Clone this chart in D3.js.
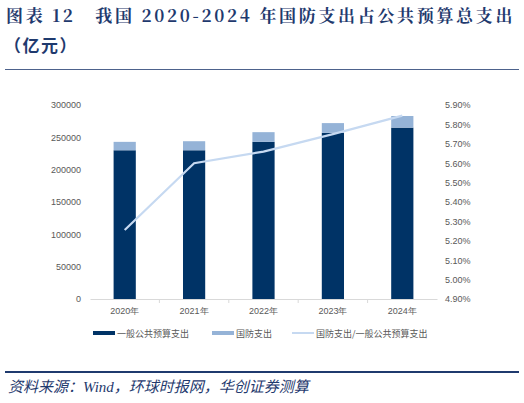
<!DOCTYPE html>
<html><head><meta charset="utf-8">
<script src="https://cdn.jsdelivr.net/npm/d3@7"></script>
<style>body{margin:0;background:#fff}</style></head>
<body><svg id="c" width="524" height="403"></svg>
<script>
const categories=["2020年","2021年","2022年","2023年","2024年"];
const general=[230000,230000,243000,257000,265000];
const defense=[13000,14000,15000,15000,18000];
const ratio=[5.256,5.60,5.66,5.75,5.845];
const leftTicks=[0,50000,100000,150000,200000,250000,300000];
const rightTicks=[4.9,5.0,5.1,5.2,5.3,5.4,5.5,5.6,5.7,5.8,5.9];
const C1="#003366",C2="#95b3d7",C3="#c6d9f1",TXT="#595959",NAVY="#1f3a6e";
const svg=d3.select("#c");
svg.append("text").attr("x",6).attr("y",22).attr("fill",NAVY).attr("font-family","Noto Serif CJK SC,Noto Sans CJK SC,serif").attr("font-weight","bold").attr("font-size",17).attr("letter-spacing",1.6).attr("textLength",508).text("图表 12　我国 2020-2024 年国防支出占公共预算总支出");
svg.append("text").attr("x",4).attr("y",52).attr("fill",NAVY).attr("font-family","Noto Sans CJK SC").attr("font-weight","bold").attr("font-size",17).attr("letter-spacing",1.5).text("（亿元）");
svg.append("line").attr("x1",5).attr("x2",519).attr("y1",69.5).attr("y2",69.5).attr("stroke",NAVY).attr("stroke-width",0.8);
svg.append("line").attr("x1",5).attr("x2",519).attr("y1",372).attr("y2",372).attr("stroke",NAVY).attr("stroke-width",2);
svg.append("text").attr("x",8).attr("y",392).attr("fill",NAVY).attr("font-family","Liberation Serif,Noto Sans CJK SC").attr("font-style","italic").attr("font-size",15).text("资料来源：Wind，环球时报网，华创证券测算");
const x=d3.scaleBand().domain(categories).range([90,437]).paddingInner(0.68).paddingOuter(0.34);
const y=d3.scaleLinear().domain([0,300000]).range([299,105]);
const y2=d3.scaleLinear().domain([4.9,5.9]).range([299,105]);
const g=svg.append("g");
g.selectAll(".b1").data(categories).join("rect").attr("x",d=>x(d)).attr("width",x.bandwidth()).attr("y",(d,i)=>y(general[i])).attr("height",(d,i)=>299-y(general[i])).attr("fill",C1);
g.selectAll(".b2").data(categories).join("rect").attr("x",d=>x(d)).attr("width",x.bandwidth()).attr("y",(d,i)=>y(general[i]+defense[i])).attr("height",(d,i)=>y(general[i])-y(general[i]+defense[i])).attr("fill",C2);
const ax=svg.append("g").attr("transform","translate(0,299)").call(d3.axisBottom(x).tickSize(0).tickPadding(9));
ax.select(".domain").attr("stroke","#d9d9d9");
const step=x.step();
categories.forEach((c,i)=>{if(i>0)svg.append("line").attr("x1",x(c)-(step-x.bandwidth())/2).attr("x2",x(c)-(step-x.bandwidth())/2).attr("y1",299).attr("y2",303).attr("stroke","#d9d9d9");});
const ay=svg.append("g").attr("transform","translate(84,0)").call(d3.axisLeft(y).tickValues(leftTicks).tickSize(0).tickFormat(d3.format("d")));
ay.select(".domain").remove();
const ay2=svg.append("g").attr("transform","translate(442,0)").call(d3.axisRight(y2).tickValues(rightTicks).tickSize(0).tickFormat(d=>d.toFixed(2)+"%"));
ay2.select(".domain").remove();
svg.selectAll(".tick text").attr("fill",TXT).attr("font-family","Liberation Sans,Arial").attr("font-size",9);
svg.append("path").datum(ratio).attr("d",d3.line().x((d,i)=>x(categories[i])+x.bandwidth()/2).y(d=>y2(d))).attr("fill","none").attr("stroke",C3).attr("stroke-width",2.2);
const leg=[["一般公共预算支出",C1,93,4],["国防支出",C2,212,4],["国防支出/一般公共预算支出",C3,292,2]];
leg.forEach(([t,c,lx,h])=>{svg.append("rect").attr("x",lx).attr("y",333-h/2).attr("width",22).attr("height",h).attr("fill",c);
svg.append("text").attr("x",lx+24).attr("y",336.5).attr("fill",TXT).attr("font-family","Noto Sans CJK SC").attr("font-size",9).text(t);});
</script></body></html>
